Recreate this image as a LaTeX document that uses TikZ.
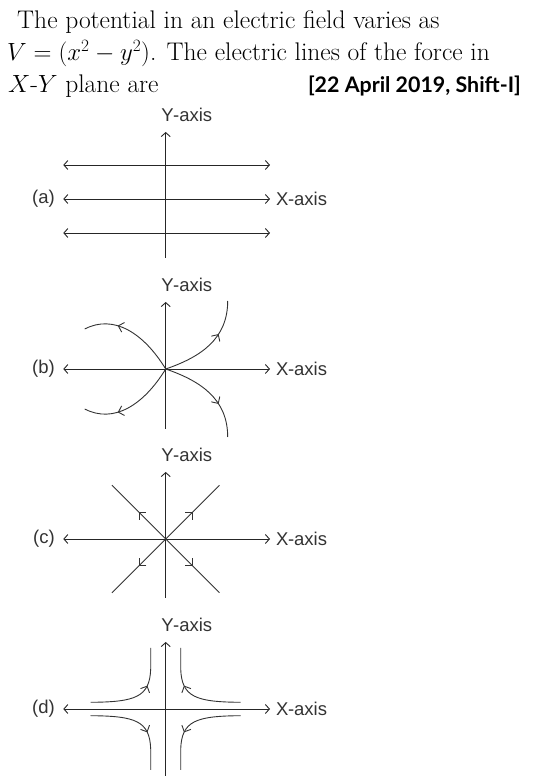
\documentclass[tikz,border=0pt]{standalone}
\usepackage{fontspec}
\setsansfont{Liberation Sans}
\newfontfamily\srcfont{Lato}
\usetikzlibrary{arrows.meta,decorations.markings}

\tikzset{
  axisline/.style={line width=0.9pt,draw=black!85},
  fieldline/.style={line width=0.9pt,draw=black!80,postaction={decorate},
    decoration={markings,mark=at position #1 with {\arrow{Straight Barb[length=5pt,width=10pt]}}}},
  axislabel/.style={font=\sffamily\fontsize{18.5}{20}\selectfont,text=black!80,inner sep=0pt},
  titletext/.style={font=\fontsize{25.5}{32}\selectfont,text=black,inner sep=0pt,anchor=base west}
}

\begin{document}
\begin{tikzpicture}[x=1pt,y=1pt,>={Straight Barb[length=4pt,width=9pt]}]
\useasboundingbox (0,0) rectangle (553,780);
% question text
\node[titletext] (q1) at (17,751) {The potential in an electric field varies as};
\node[titletext] (q2) at (7,719) {$V=(x^{2}-y^{2})$. The electric lines of the force in};
\node[titletext] (q3) at (8,687) {$X$-$Y$ plane are};
\node[inner sep=0pt,anchor=base east,font=\srcfont\bfseries\fontsize{21.4}{24}\selectfont,text=black]
  (src) at (521,687) {[22 April 2019, Shift-I]};
% axes of the four options
\foreach \yc/\lab/\bot in {581/a/59,411/b/60,241/c/59,71/d/67}{
  \coordinate (L\lab) at (63.3,\yc);
  \coordinate (R\lab) at (270,\yc);
  \coordinate (T\lab) at (165.7,\yc+67);
  \coordinate (B\lab) at (165.7,\yc-\bot);
  \draw[axisline,<->] (L\lab) -- (R\lab);
  \draw[axisline,->] (B\lab) -- (T\lab);
  \node[axislabel] (Y\lab) at (186.7,\yc+84) {$\mathsf{Y}$\kern-0.5pt-axis};
  \node[axislabel,anchor=west] (X\lab) at (276,\yc) {$\mathsf{X}$\kern-0.5pt-axis};
  \node[axislabel,anchor=east] (opt\lab) at (55,\yc) {(\lab)};
}
% (a) parallel lines
\foreach \dy in {34,-34}{
  \draw[axisline,<->] (63.3,581+\dy) -- (270,581+\dy);
}
% (b) curved lines through origin
\begin{scope}[shift={(165.7,411)}]
  \draw[fieldline=0.66] (0,0) .. controls (-22,36) and (-52,55) .. (-81,40);
  \draw[fieldline=0.66] (0,0) .. controls (-22,-36) and (-52,-55) .. (-81,-40);
  \draw[fieldline=0.65] (0,0) .. controls (35,12) and (62,30) .. (62,68);
  \draw[fieldline=0.65] (0,0) .. controls (35,-12) and (62,-30) .. (62,-68);
\end{scope}
% (c) straight lines along the diagonals
\begin{scope}[shift={(165.7,241)}]
  \foreach \ang in {45,135,225,315}{
    \draw[fieldline=0.5] (0,0) -- (\ang:76);
  }
\end{scope}
% (d) hyperbolae
\begin{scope}[shift={(165.7,71)}]
  \foreach \sx in {1,-1}{
    \draw[fieldline=0.62] (75*\sx,6.7) .. controls (30*\sx,7) and (16*\sx,12) .. (15*\sx,40) -- (15*\sx,61);
    \draw[fieldline=0.62] (75*\sx,-6.7) .. controls (30*\sx,-7) and (16*\sx,-12) .. (15*\sx,-40) -- (15*\sx,-61);
  }
\end{scope}
\end{tikzpicture}
\end{document}
